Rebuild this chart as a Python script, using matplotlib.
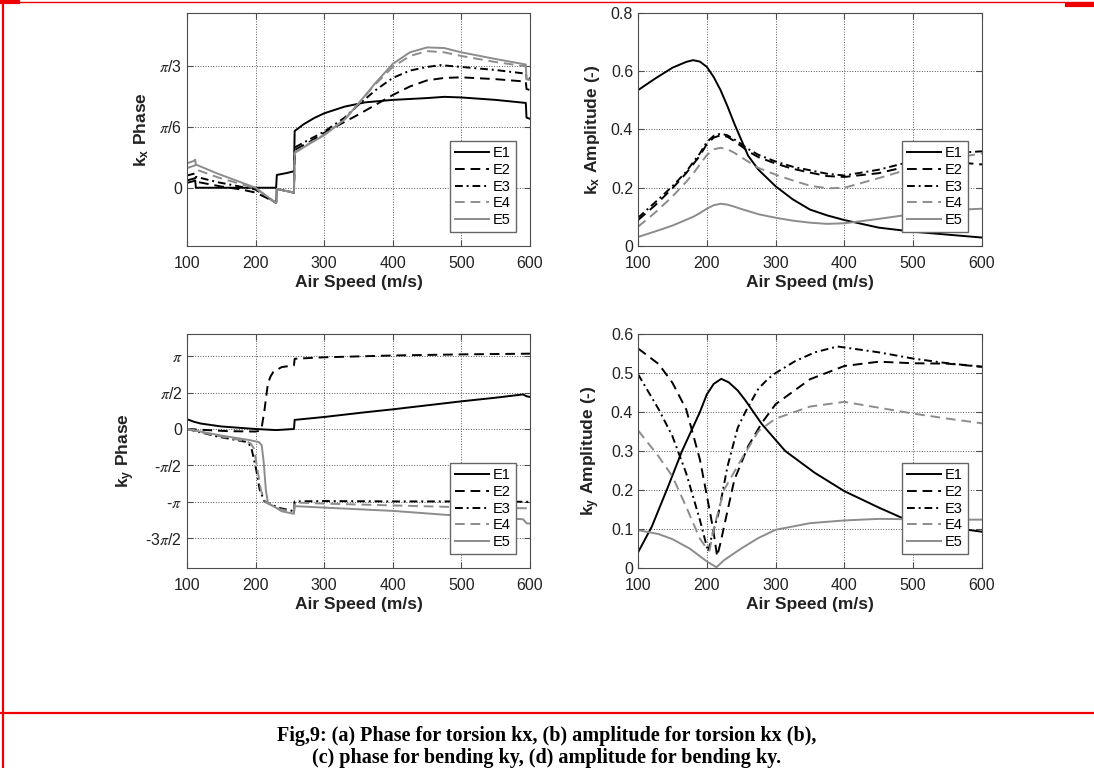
import numpy as np
import matplotlib.pyplot as plt
from matplotlib.lines import Line2D

plt.rcParams['font.family'] = ['Liberation Sans', 'DejaVu Sans']
plt.rcParams['mathtext.fontset'] = 'stix'

labels = ["E1", "E2", "E3", "E4", "E5"]
colors = ["black", "black", "black", "0.55", "0.55"]
styles = ["-", (0, (5, 3)), (0, (4, 2, 1, 2)), (0, (5, 3)), "-"]

# (a) kx phase, values in units of pi/6
kxp_x = {
    "E1": [100, 110, 112, 113, 150, 200, 230, 231, 245, 256, 257, 270, 285, 300, 330, 360, 400, 450, 475, 500, 550, 594, 595, 600],
    "E2": [100, 110, 112, 113, 150, 180, 200, 215, 230, 231, 256, 257, 280, 300, 330, 350, 375, 400, 425, 450, 475, 500, 550, 594, 595, 600],
    "E3": [100, 110, 112, 113, 145, 200, 230, 231, 256, 257, 280, 300, 330, 350, 375, 400, 425, 450, 470, 500, 550, 594, 595, 600],
    "E4": [100, 110, 112, 113, 145, 200, 230, 231, 256, 257, 280, 300, 330, 350, 375, 400, 425, 450, 475, 500, 550, 594, 595, 600],
    "E5": [100, 110, 112, 113, 145, 200, 230, 231, 256, 257, 280, 300, 330, 350, 375, 400, 425, 450, 475, 500, 550, 594, 595, 600],
}
kxp_y = {
    "E1": [0.08, 0.11, 0.12, 0.0, 0.0, 0.0, 0.0, 0.21, 0.24, 0.27, 0.93, 1.04, 1.14, 1.22, 1.33, 1.40, 1.44, 1.47, 1.49, 1.48, 1.44, 1.39, 1.15, 1.13],
    "E2": [0.12, 0.15, 0.16, 0.10, 0.02, -0.03, -0.08, -0.16, -0.25, -0.02, -0.08, 0.62, 0.76, 0.90, 1.08, 1.20, 1.36, 1.52, 1.66, 1.76, 1.80, 1.81, 1.78, 1.74, 1.62, 1.60],
    "E3": [0.20, 0.23, 0.24, 0.18, 0.09, -0.03, -0.25, -0.02, -0.08, 0.66, 0.80, 0.92, 1.15, 1.36, 1.60, 1.80, 1.92, 1.98, 2.01, 1.98, 1.93, 1.87, 1.80, 1.79],
    "E4": [0.32, 0.36, 0.37, 0.30, 0.17, -0.01, -0.25, -0.02, -0.08, 0.58, 0.74, 0.87, 1.12, 1.38, 1.70, 1.98, 2.16, 2.24, 2.22, 2.16, 2.06, 1.99, 1.78, 1.77],
    "E5": [0.40, 0.44, 0.46, 0.38, 0.23, 0.00, -0.25, -0.02, -0.08, 0.57, 0.73, 0.86, 1.12, 1.38, 1.72, 2.03, 2.22, 2.30, 2.29, 2.22, 2.11, 2.02, 1.78, 1.77],
}

# (b) kx amplitude
kxa_x = [100, 125, 150, 170, 180, 190, 200, 210, 220, 230, 240, 250, 260, 275, 300, 325, 350, 375, 400, 450, 500, 550, 600]
kxa_y = {
    "E1": [0.535, 0.575, 0.612, 0.632, 0.638, 0.633, 0.615, 0.58, 0.535, 0.48, 0.42, 0.365, 0.31, 0.262, 0.205, 0.16, 0.125, 0.105, 0.089, 0.063, 0.049, 0.039, 0.029],
    "E2": [0.089, 0.14, 0.198, 0.25, 0.28, 0.31, 0.35, 0.372, 0.38, 0.375, 0.36, 0.343, 0.325, 0.305, 0.283, 0.265, 0.252, 0.24, 0.237, 0.25, 0.278, 0.29, 0.28],
    "E3": [0.097, 0.15, 0.205, 0.255, 0.287, 0.318, 0.357, 0.378, 0.386, 0.38, 0.366, 0.35, 0.333, 0.313, 0.29, 0.272, 0.26, 0.248, 0.242, 0.262, 0.292, 0.318, 0.325],
    "E4": [0.066, 0.115, 0.17, 0.22, 0.248, 0.28, 0.312, 0.332, 0.337, 0.332, 0.32, 0.305, 0.29, 0.268, 0.245, 0.225, 0.207, 0.198, 0.2, 0.233, 0.268, 0.298, 0.318],
    "E5": [0.031, 0.05, 0.07, 0.09, 0.1, 0.113, 0.128, 0.14, 0.145, 0.142, 0.135, 0.127, 0.12, 0.109, 0.097, 0.087, 0.08, 0.076, 0.078, 0.093, 0.11, 0.123, 0.128],
}

# (c) ky phase, values in units of pi/2
kyp_x = {
    "E1": [100, 110, 120, 150, 200, 230, 256, 257, 300, 360, 400, 450, 500, 550, 590, 595, 600],
    "E2": [100, 130, 160, 200, 206, 209, 213, 218, 222, 226, 238, 256, 257, 300, 400, 500, 600],
    "E3": [100, 145, 185, 190, 194, 201, 206, 213, 233, 256, 257, 300, 400, 500, 600],
    "E4": [100, 145, 185, 193, 198, 203, 208, 215, 235, 256, 257, 300, 400, 500, 600],
    "E5": [100, 150, 190, 205, 209, 212, 215, 218, 238, 256, 257, 300, 400, 500, 590, 595, 600],
}
kyp_y = {
    "E1": [0.27, 0.20, 0.15, 0.07, 0.00, -0.03, 0.00, 0.25, 0.33, 0.46, 0.54, 0.65, 0.76, 0.86, 0.95, 0.90, 0.88],
    "E2": [0.0, -0.03, -0.06, -0.07, -0.05, 0.05, 0.52, 1.25, 1.45, 1.57, 1.70, 1.75, 1.93, 1.97, 2.02, 2.05, 2.07],
    "E3": [0.0, -0.21, -0.35, -0.40, -0.53, -1.12, -1.67, -1.99, -2.16, -2.26, -1.99, -1.98, -1.99, -1.99, -2.0],
    "E4": [0.0, -0.19, -0.33, -0.40, -0.55, -1.15, -1.70, -2.02, -2.20, -2.28, -2.02, -2.05, -2.10, -2.15, -2.18],
    "E5": [0.0, -0.18, -0.30, -0.36, -0.45, -0.94, -1.67, -2.03, -2.26, -2.33, -2.12, -2.16, -2.25, -2.39, -2.48, -2.59, -2.60],
}

# (d) ky amplitude
kya_x = {
    "E1": [100, 120, 144, 164, 190, 200, 210, 221, 232, 245, 256, 280, 314, 357, 400, 450, 487, 550, 600],
    "E2": [100, 130, 150, 170, 190, 205, 210, 215, 220, 225, 240, 260, 280, 300, 350, 400, 450, 500, 550, 600],
    "E3": [100, 130, 150, 170, 190, 197, 202, 207, 217, 230, 245, 256, 275, 289, 300, 328, 357, 390, 450, 500, 550, 600],
    "E4": [100, 130, 150, 170, 190, 200, 204, 210, 225, 250, 275, 300, 350, 400, 450, 500, 550, 600],
    "E5": [100, 130, 150, 175, 200, 214, 225, 250, 275, 300, 350, 400, 450, 500, 550, 600],
}
kya_y = {
    "E1": [0.04, 0.106, 0.21, 0.30, 0.40, 0.445, 0.472, 0.485, 0.476, 0.455, 0.43, 0.369, 0.30, 0.244, 0.197, 0.155, 0.126, 0.105, 0.093],
    "E2": [0.563, 0.523, 0.475, 0.407, 0.278, 0.14, 0.09, 0.03, 0.065, 0.106, 0.226, 0.312, 0.372, 0.42, 0.484, 0.518, 0.529, 0.525, 0.524, 0.516],
    "E3": [0.497, 0.407, 0.338, 0.243, 0.123, 0.075, 0.042, 0.08, 0.14, 0.26, 0.36, 0.40, 0.46, 0.485, 0.50, 0.53, 0.553, 0.568, 0.553, 0.537, 0.525, 0.516],
    "E4": [0.353, 0.286, 0.235, 0.157, 0.075, 0.05, 0.045, 0.10, 0.2, 0.278, 0.351, 0.383, 0.414, 0.426, 0.411, 0.396, 0.383, 0.371],
    "E5": [0.097, 0.087, 0.074, 0.05, 0.017, 0.002, 0.02, 0.05, 0.077, 0.098, 0.115, 0.122, 0.126, 0.125, 0.124, 0.124],
}

x_ticks = [100, 200, 300, 400, 500, 600]


def style_axes(ax, ylabel):
    ax.set_xlim(100, 600)
    ax.set_xticks(x_ticks)
    ax.grid(True, linestyle=":", color="0.35", linewidth=0.7)
    ax.tick_params(direction="in", top=True, right=True, length=4,
                   labelsize=11.5, labelcolor="#222222", color="0.3")
    ax.tick_params(axis="x", pad=7)
    for s in ax.spines.values():
        s.set_color("0.3")
        s.set_linewidth(0.8)
    ax.set_xlabel("Air Speed (m/s)", fontsize=12.5, fontweight="bold", color="#222222", labelpad=3)
    ax.set_ylabel(ylabel, fontsize=12.5, fontweight="bold", color="#222222", labelpad=6)
    leg = ax.legend(loc="lower right", bbox_to_anchor=(0.96, 0.06), borderaxespad=0,
                    fontsize=10.5, labelspacing=0.18, handlelength=2.3, handletextpad=0.3,
                    borderpad=0.35, fancybox=False, framealpha=1)
    leg.get_frame().set_edgecolor("0.4")
    leg.get_frame().set_linewidth(1.0)


fig = plt.figure(figsize=(10.94, 7.68), dpi=100)
ax_a = fig.add_axes([0.1709, 0.6797, 0.3135, 0.3034])
ax_b = fig.add_axes([0.5832, 0.6797, 0.3144, 0.3034])
ax_c = fig.add_axes([0.1709, 0.2604, 0.3135, 0.3047])
ax_d = fig.add_axes([0.5832, 0.2604, 0.3144, 0.3047])

for i, lab in enumerate(labels):
    kw = dict(color=colors[i], linestyle=styles[i], linewidth=1.4, label=lab)
    ax_a.plot(kxp_x[lab], np.array(kxp_y[lab]) * np.pi / 6, **kw)
    ax_b.plot(kxa_x, kxa_y[lab], **kw)
    ax_c.plot(kyp_x[lab], np.array(kyp_y[lab]) * np.pi / 2, **kw)
    ax_d.plot(kya_x[lab], kya_y[lab], **kw)

ax_a.set_ylim(-0.5, 1.5)
ax_a.set_yticks([0, np.pi / 6, np.pi / 3])
ax_a.set_yticklabels(["0", r"$\pi$/6", r"$\pi$/3"])
style_axes(ax_a, r"k$_\mathregular{x}$ Phase")

ax_b.set_ylim(0, 0.8)
ax_b.set_yticks([0, 0.2, 0.4, 0.6, 0.8])
ax_b.set_yticklabels(["0", "0.2", "0.4", "0.6", "0.8"])
style_axes(ax_b, r"k$_\mathregular{x}$ Amplitude (-)")

ax_c.set_ylim(-6, 4.1)
ax_c.set_yticks([-1.5 * np.pi, -np.pi, -np.pi / 2, 0, np.pi / 2, np.pi])
ax_c.set_yticklabels([r"-3$\pi$/2", r"-$\pi$", r"-$\pi$/2", "0", r"$\pi$/2", r"$\pi$"])
style_axes(ax_c, r"k$_\mathregular{y}$ Phase")

ax_d.set_ylim(0, 0.6)
ax_d.set_yticks([0, 0.1, 0.2, 0.3, 0.4, 0.5, 0.6])
ax_d.set_yticklabels(["0", "0.1", "0.2", "0.3", "0.4", "0.5", "0.6"])
style_axes(ax_d, r"k$_\mathregular{y}$ Amplitude (-)")

# red page borders
red = "#ee0000"
fig.add_artist(Line2D([0, 1], [1 - 2 / 768, 1 - 2 / 768], color=red, linewidth=1.0, transform=fig.transFigure))
fig.add_artist(Line2D([0, 0.016], [1 - 2 / 768, 1 - 2 / 768], color=red, linewidth=3, transform=fig.transFigure))
fig.add_artist(Line2D([0.975, 1], [1 - 5 / 768, 1 - 5 / 768], color=red, linewidth=3, transform=fig.transFigure))
fig.add_artist(Line2D([3 / 1094, 3 / 1094], [0, 1], color=red, linewidth=1.6, transform=fig.transFigure))
fig.add_artist(Line2D([0, 1], [1 - 713 / 768, 1 - 713 / 768], color=red, linewidth=1.6, transform=fig.transFigure))

cap = dict(ha="center", va="center", fontsize=14.5, fontweight="bold", family="Liberation Serif")
fig.text(0.5, 1 - 736 / 768, "Fig,9: (a) Phase for torsion kx, (b) amplitude for torsion kx (b),", **cap)
fig.text(0.5, 1 - 758 / 768, "(c) phase for bending ky, (d) amplitude for bending ky.", **cap)

fig.savefig("out.png", dpi=100)
